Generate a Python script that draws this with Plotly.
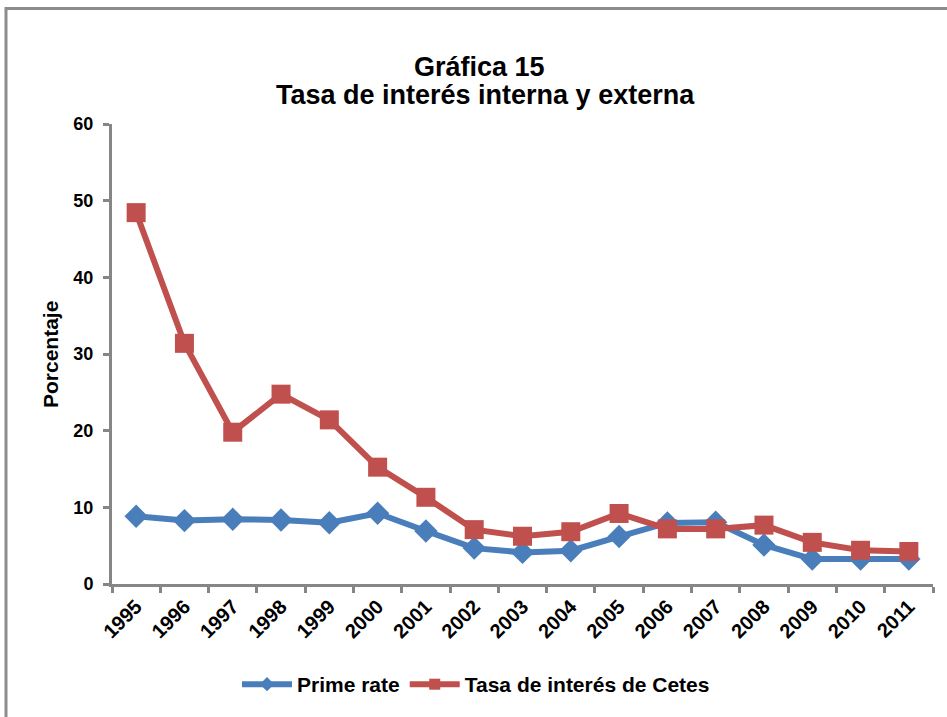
import plotly.graph_objects as go

years = ["1995", "1996", "1997", "1998", "1999", "2000", "2001", "2002", "2003",
         "2004", "2005", "2006", "2007", "2008", "2009", "2010", "2011"]
prime_rate = [8.83, 8.27, 8.44, 8.35, 7.99, 9.23, 6.92, 4.68, 4.12,
              4.34, 6.19, 7.96, 8.05, 5.09, 3.25, 3.25, 3.25]
cetes = [48.44, 31.39, 19.80, 24.76, 21.41, 15.24, 11.31, 7.09, 6.23,
         6.82, 9.20, 7.19, 7.19, 7.68, 5.43, 4.40, 4.24]
series_names = ["Prime rate", "Tasa de interés de Cetes"]

BLUE = "#4A7EBB"
RED = "#C0504D"
FONT = "Liberation Sans"

W, H = 947, 717
PL, PT, PR, PB = 112, 124, 933, 586  # plot area in page pixels
PW, PH = PR - PL, PB - PT


def px(x):
    return (x - PL) / PW


def py(y):
    return (PB - y) / PH


fig = go.Figure()
fig.add_trace(go.Scatter(
    x=years, y=prime_rate, name=series_names[0], mode="lines+markers",
    line=dict(color=BLUE, width=6), showlegend=False,
    marker=dict(symbol="diamond", size=18, color=BLUE),
))
fig.add_trace(go.Scatter(
    x=years, y=cetes, name=series_names[1], mode="lines+markers",
    line=dict(color=RED, width=6), showlegend=False,
    marker=dict(symbol="square", size=19, color=RED),
))
# legend entries with the small markers of the original legend
fig.add_trace(go.Scatter(
    x=[None], y=[None], name=series_names[0], mode="lines+markers",
    line=dict(color=BLUE, width=6),
    marker=dict(symbol="diamond", size=11, color=BLUE),
))
fig.add_trace(go.Scatter(
    x=[None], y=[None], name=series_names[1], mode="lines+markers",
    line=dict(color=RED, width=6),
    marker=dict(symbol="square", size=11, color=RED),
))

fig.update_layout(
    width=W, height=H,
    margin=dict(l=PL, r=W - PR, t=PT, b=H - PB),
    paper_bgcolor="white", plot_bgcolor="white",
    font=dict(family=FONT, size=18, color="black"),
    showlegend=True,
    legend=dict(
        orientation="h", x=px(476), xanchor="center", y=py(687), yanchor="middle",
        font=dict(family=FONT, size=21, color="black", weight="bold"),
        tracegroupgap=0, itemwidth=50,
    ),
    xaxis=dict(
        type="category", range=[-0.5, 16.5], tickson="boundaries",
        showline=True, linecolor="#868686", linewidth=3,
        ticks="outside", ticklen=6, tickwidth=3, tickcolor="#868686",
        tickangle=-45, showgrid=False, zeroline=False,
        tickfont=dict(family=FONT, size=20, color="black", weight="bold"),
    ),
    yaxis=dict(
        range=[0, 60], dtick=10, tick0=0,
        showline=True, linecolor="#868686", linewidth=3,
        ticks="outside", ticklen=6, tickwidth=3, tickcolor="#868686",
        showgrid=False, zeroline=False, ticklabelstandoff=6,
        tickfont=dict(family=FONT, size=18, color="black", weight="bold"),
    ),
    annotations=[
        dict(text="<b>Gráfica 15</b>", xref="paper", yref="paper",
             x=px(479), y=py(67), xanchor="center", yanchor="middle",
             showarrow=False, font=dict(family=FONT, size=27, color="black")),
        dict(text="<b>Tasa de interés interna y externa</b>", xref="paper", yref="paper",
             x=px(485), y=py(95), xanchor="center", yanchor="middle",
             showarrow=False, font=dict(family=FONT, size=27, color="black")),
        dict(text="<b>Porcentaje</b>", textangle=-90,
             xref="paper", yref="paper", x=px(51), y=py(356),
             xanchor="center", yanchor="middle", showarrow=False,
             font=dict(family=FONT, size=21, color="black")),
    ],
    shapes=[dict(
        type="rect", xref="paper", yref="paper",
        x0=px(6), x1=px(990), y0=py(760), y1=py(8),
        line=dict(color="#8C8C8C", width=3), fillcolor="rgba(0,0,0,0)",
    )],
)

fig.write_html(
    "out.html",
    config={"displayModeBar": False},
    post_script="document.body.style.margin='0';document.body.style.overflow='hidden';",
)
